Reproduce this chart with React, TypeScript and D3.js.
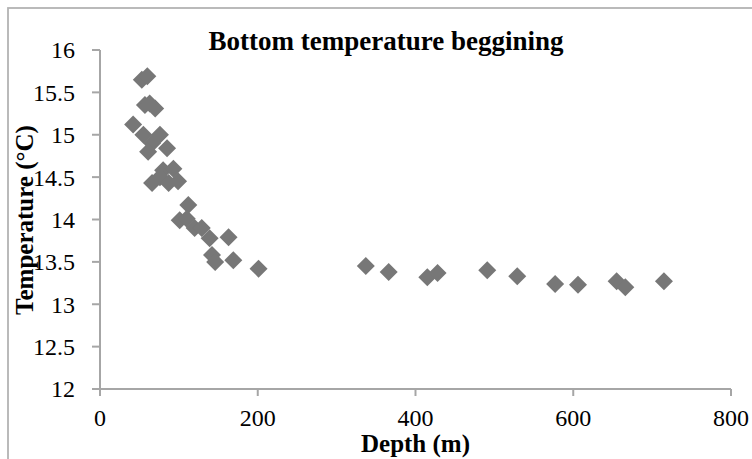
import React from "react";
import * as d3 from "d3";

const depths = [42, 53, 60, 57, 63, 70, 55, 76, 66, 61, 85, 80, 93, 66, 76, 87, 99, 112, 101, 110, 120, 129, 139, 163, 142, 146, 169, 201, 337, 366, 415, 428, 491, 529, 577, 606, 655, 666, 715];
const temps = [15.12, 15.65, 15.69, 15.35, 15.37, 15.31, 15.0, 15.0, 14.9, 14.8, 14.84, 14.58, 14.6, 14.43, 14.5, 14.43, 14.45, 14.17, 13.99, 14.01, 13.9, 13.9, 13.78, 13.79, 13.58, 13.5, 13.52, 13.42, 13.45, 13.38, 13.32, 13.37, 13.4, 13.33, 13.24, 13.23, 13.27, 13.2, 13.27];
const xTicks = [0, 200, 400, 600, 800];
const yTicks = [12, 12.5, 13, 13.5, 14, 14.5, 15, 15.5, 16];
const title = "Bottom temperature beggining";
const xTitle = "Depth (m)";
const yTitle = "Temperature (°C)";

const W = 752;
const H = 459;
const FONT = "'Liberation Serif', 'Times New Roman', serif";
const AXIS = "#a6a6a6";

export default function App() {
  const x = d3.scaleLinear().domain([0, 800]).range([100, 731]);
  const y = d3.scaleLinear().domain([12, 16]).range([389, 50]);
  const diamond = d3.symbol(d3.symbolSquare, 162)() as string;
  const [x0, x1] = x.range();
  const [y0, y1] = y.range();

  return (
    <svg
      width={W}
      height={H}
      style={{ position: "absolute", left: 0, top: 0, background: "#fff", fontFamily: FONT }}
    >
      <rect x={8} y={8} width={W + 20} height={H + 20} fill="#fff" stroke="#b3b3b3" strokeWidth={1.8} />
      <text x={386} y={50} textAnchor="middle" fontSize={27} fontWeight="bold" fill="#000" style={{ fontFamily: FONT }}>
        {title}
      </text>
      {/* y axis */}
      <line x1={x0} x2={x0} y1={y0} y2={y1} stroke={AXIS} strokeWidth={2} />
      {yTicks.map((t) => (
        <g key={"y" + t}>
          <line x1={x0 - 8} x2={x0} y1={y(t)} y2={y(t)} stroke={AXIS} strokeWidth={2} />
          <text x={75} y={y(t)} dy="0.35em" textAnchor="end" fontSize={24} fill="#000" style={{ fontFamily: FONT }}>
            {String(t)}
          </text>
        </g>
      ))}
      {/* x axis */}
      <line x1={x0 - 8} x2={x1} y1={y0} y2={y0} stroke={AXIS} strokeWidth={2} />
      {xTicks.map((t) => (
        <g key={"x" + t}>
          <line x1={x(t)} x2={x(t)} y1={y0} y2={y0 + 7} stroke={AXIS} strokeWidth={2} />
          <text x={x(t)} y={426} textAnchor="middle" fontSize={24} fill="#000" style={{ fontFamily: FONT }}>
            {String(t)}
          </text>
        </g>
      ))}
      {/* points */}
      {depths.map((d, i) => (
        <path
          key={"p" + i}
          d={diamond}
          transform={`translate(${x(d)},${y(temps[i])}) rotate(45)`}
          fill="#777777"
        />
      ))}
      <text x={x(400)} y={452} textAnchor="middle" fontSize={25} fontWeight="bold" fill="#000" style={{ fontFamily: FONT }}>
        {xTitle}
      </text>
      <text
        transform={`translate(33,220) rotate(-90)`}
        textAnchor="middle"
        fontSize={25}
        fontWeight="bold"
        fill="#000"
        style={{ fontFamily: FONT }}
      >
        {yTitle}
      </text>
    </svg>
  );
}
